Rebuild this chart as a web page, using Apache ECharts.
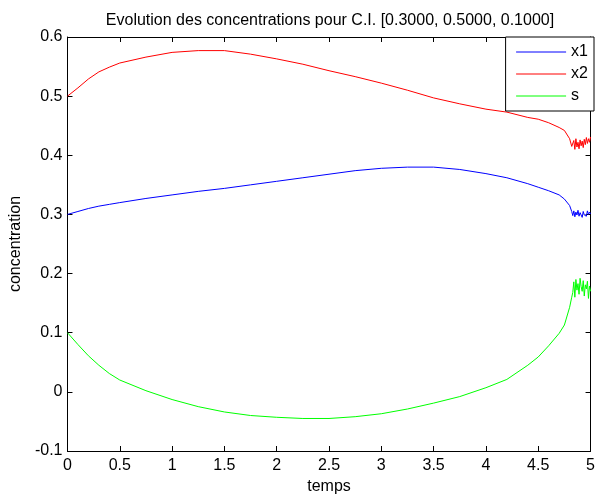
<!DOCTYPE html>
<html>
<head>
<meta charset="utf-8">
<script src="https://cdn.jsdelivr.net/npm/echarts@6/dist/echarts.min.js"></script>
<style>html,body{margin:0;padding:0;background:#fff;}#c{width:598px;height:500px;}</style>
</head>
<body>
<div id="c"></div>
<script>
var titleText = "Evolution des concentrations pour C.I. [0.3000, 0.5000, 0.1000]";
var seriesNames = ["x1", "x2", "s"];
var xTicks = [0, 0.5, 1, 1.5, 2, 2.5, 3, 3.5, 4, 4.5, 5];
var yTicks = [-0.1, 0, 0.1, 0.2, 0.3, 0.4, 0.5, 0.6];

var times = [0, 0.1, 0.2, 0.3, 0.4, 0.5, 0.75, 1.0, 1.25, 1.5, 1.75, 2.0, 2.25, 2.5, 2.75,
  3.0, 3.25, 3.5, 3.75, 4.0, 4.2, 4.4, 4.5, 4.6, 4.7, 4.75, 4.8, 4.82,
  4.83, 4.84, 4.85, 4.86, 4.87, 4.88, 4.89, 4.90, 4.91, 4.92, 4.93, 4.94, 4.95, 4.96, 4.97, 4.98, 4.99, 5.0];

var x1 = [0.300, 0.305, 0.310, 0.314, 0.317, 0.320, 0.327, 0.333, 0.339, 0.344, 0.350, 0.356, 0.362, 0.368, 0.374,
  0.378, 0.380, 0.380, 0.376, 0.369, 0.362, 0.352, 0.346, 0.340, 0.333, 0.326, 0.315, 0.305,
  0.298, 0.306, 0.296, 0.304, 0.299, 0.307, 0.297, 0.303, 0.300, 0.295, 0.305, 0.299, 0.302, 0.297, 0.306, 0.300, 0.304, 0.301];

var x2 = [0.500, 0.514, 0.529, 0.541, 0.549, 0.556, 0.566, 0.574, 0.577, 0.577, 0.571, 0.563, 0.554, 0.543, 0.533,
  0.522, 0.510, 0.497, 0.487, 0.478, 0.473, 0.464, 0.461, 0.455, 0.447, 0.442, 0.428, 0.415,
  0.412, 0.425, 0.410, 0.428, 0.414, 0.422, 0.411, 0.426, 0.416, 0.424, 0.413, 0.427, 0.418, 0.430, 0.420, 0.428, 0.422, 0.431];

var s = [0.100, 0.080, 0.061, 0.045, 0.031, 0.020, 0.002, -0.013, -0.025, -0.034, -0.040, -0.043, -0.045, -0.045, -0.042,
  -0.037, -0.029, -0.019, -0.008, 0.007, 0.021, 0.045, 0.059, 0.078, 0.099, 0.113, 0.143, 0.160,
  0.168, 0.186, 0.160, 0.190, 0.172, 0.183, 0.165, 0.192, 0.178, 0.170, 0.188, 0.162, 0.181, 0.174, 0.187, 0.158, 0.179, 0.170];

var colors = ["#0000ff", "#ff0000", "#00ff00"];
var font = "'Liberation Sans', Arial, Helvetica, sans-serif";
var fs = 16;

function pairs(t, v) { return t.map(function (x, i) { return [x, v[i]]; }); }
var values = [x1, x2, s];

var chart = echarts.init(document.getElementById('c'), null, {renderer: 'canvas'});
var axisCommon = {
  axisLine: {show: true, onZero: false, lineStyle: {color: '#000', width: 1}},
  axisTick: {show: true, inside: true, length: 5, lineStyle: {color: '#000'}},
  splitLine: {show: false}
};
function fmt(v) { return String(Math.round(v * 10) / 10); }
chart.setOption({
  animation: false,
  backgroundColor: '#fff',
  textStyle: {fontFamily: font},
  title: {
    text: titleText, left: 330, top: 13, textAlign: 'center', padding: 0,
    textStyle: {fontSize: fs, fontWeight: 'normal', color: '#000', fontFamily: font}
  },
  grid: {left: 66, right: 4, top: 37, bottom: 45, containLabel: false},
  legend: {
    data: seriesNames, orient: 'vertical', right: 4, top: 37,
    backgroundColor: '#fff', borderColor: '#000', borderWidth: 1,
    padding: [7, 6, 7, 10], itemWidth: 50, itemHeight: 14, itemGap: 6,
    itemStyle: {opacity: 0},
    lineStyle: {width: 1},
    textStyle: {fontSize: fs, color: '#000', fontFamily: font, padding: [0, 0, 0, 0]}
  },
  xAxis: [
    Object.assign({type: 'value', position: 'bottom', min: xTicks[0], max: xTicks[xTicks.length - 1], interval: 0.5,
      name: 'temps', nameLocation: 'middle', nameGap: 28,
      nameTextStyle: {fontSize: fs, color: '#000', fontFamily: font},
      axisLabel: {fontSize: fs, color: '#000', margin: 7, fontFamily: font}}, axisCommon),
    Object.assign({type: 'value', position: 'top', min: xTicks[0], max: xTicks[xTicks.length - 1], interval: 0.5,
      axisLabel: {show: false}}, axisCommon)
  ],
  yAxis: [
    Object.assign({type: 'value', position: 'left', min: yTicks[0], max: yTicks[yTicks.length - 1], interval: 0.1,
      name: 'concentration', nameLocation: 'middle', nameGap: 38,
      nameTextStyle: {fontSize: fs, color: '#000', fontFamily: font},
      axisLabel: {fontSize: fs, color: '#000', margin: 5, formatter: fmt, fontFamily: font}}, axisCommon),
    Object.assign({type: 'value', position: 'right', min: yTicks[0], max: yTicks[yTicks.length - 1], interval: 0.1,
      axisLabel: {show: false}}, axisCommon)
  ],
  series: seriesNames.map(function (n, i) {
    return {
      name: n, type: 'line', xAxisIndex: 0, yAxisIndex: 0,
      data: pairs(times, values[i]), symbol: 'none', showSymbol: false,
      lineStyle: {color: colors[i], width: 1}, itemStyle: {color: colors[i]}
    };
  })
});
</script>
</body>
</html>
